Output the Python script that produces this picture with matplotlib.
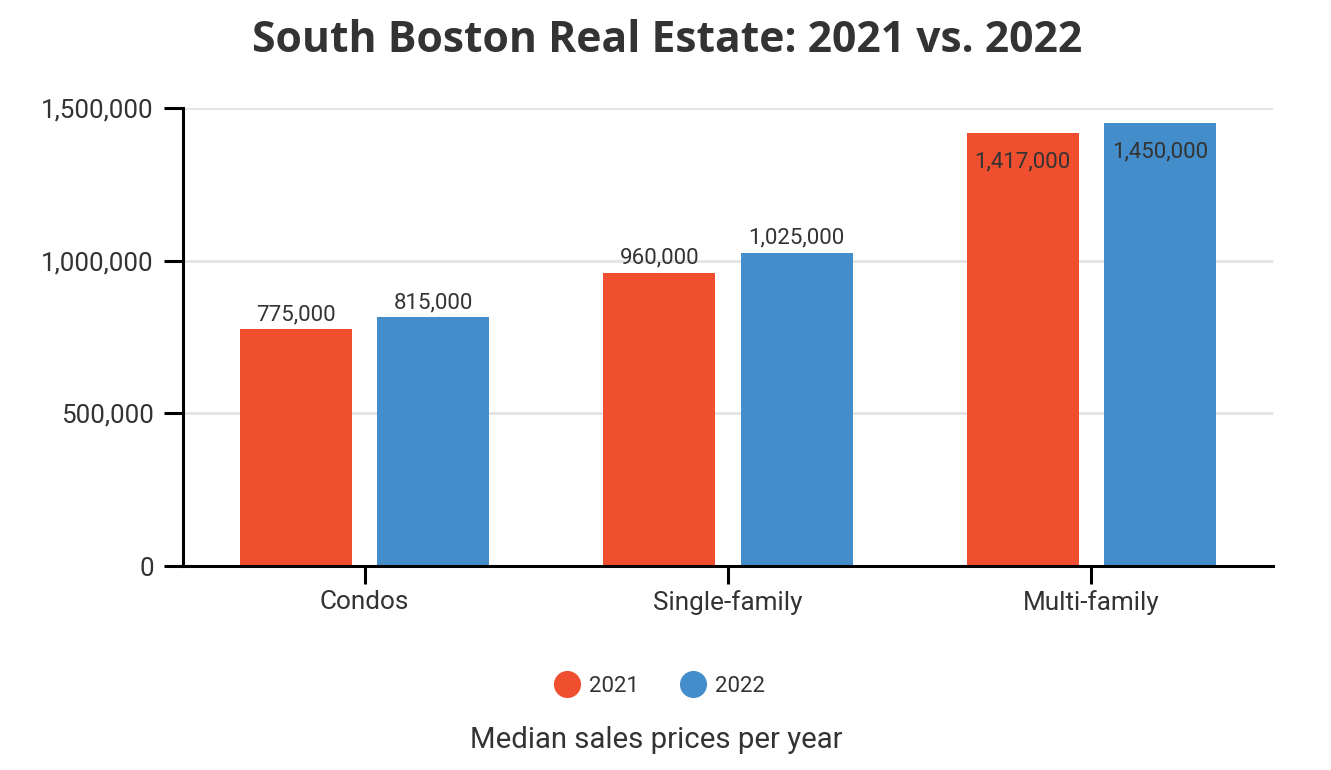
import matplotlib
matplotlib.use("Agg")
import matplotlib.pyplot as plt
import numpy as np
from matplotlib.lines import Line2D

categories = ["Condos", "Single-family", "Multi-family"]
series_names = ["2021", "2022"]
values_2021 = [775000, 960000, 1417000]
values_2022 = [815000, 1025000, 1450000]
y_ticks = [0, 500000, 1000000, 1500000]
y_tick_labels = ["0", "500,000", "1,000,000", "1,500,000"]
title = "South Boston Real Estate: 2021 vs. 2022"
subtitle = "Median sales prices per year"

RED = "#EF4F2F"
BLUE = "#448DCB"
TXT = "#333333"
FONT = ["Roboto", "DejaVu Sans"]

fig = plt.figure(figsize=(13.31, 7.70), dpi=100)
ax = fig.add_axes([183/1331, 1-566/770, (1273-183)/1331, (566-108)/770])

x = np.arange(len(categories))
w = 0.308
off = 0.189
b1 = ax.bar(x - off, values_2021, w, color=RED, zorder=3)
b2 = ax.bar(x + off, values_2022, w, color=BLUE, zorder=3)

ax.set_xlim(-0.5, 2.5)
ax.set_ylim(0, 1500000)
ax.set_yticks(y_ticks)
ax.set_yticklabels(y_tick_labels, family=FONT, fontsize=18.7, color=TXT)
ax.set_xticks(x)
ax.set_xticklabels(categories, family=FONT, fontsize=18.8, color=TXT)
ax.tick_params(axis="y", length=14, width=2.2, color="black", pad=7)
ax.tick_params(axis="x", length=13, width=2.2, color="black", pad=4)
ax.grid(axis="y", color="#e3e3e3", linewidth=2, zorder=0)
for s in ["top", "right"]:
    ax.spines[s].set_visible(False)
for s in ["left", "bottom"]:
    ax.spines[s].set_linewidth(2.2)
    ax.spines[s].set_color("black")
    ax.spines[s].set_zorder(4)

for bars, vals in ((b1, values_2021), (b2, values_2022)):
    for rect, v in zip(bars, vals):
        label = f"{v:,}"
        cx = rect.get_x() + rect.get_width() / 2
        if v > 1300000:
            ax.annotate(label, (cx, v), xytext=(0, -13), textcoords="offset points",
                        ha="center", va="top", fontsize=16, family=FONT, color=TXT, zorder=5)
        else:
            ax.annotate(label, (cx, v), xytext=(0, 3), textcoords="offset points",
                        ha="center", va="bottom", fontsize=16, family=FONT, color=TXT, zorder=5)

fig.text(667/1331, 1-40/770, title, ha="center", va="center", fontsize=30.7,
         fontweight="bold", family=["Open Sans", "DejaVu Sans"], color="#333333")

handles = [Line2D([], [], marker="o", linestyle="none", markersize=18.5, color=RED, label=series_names[0]),
           Line2D([], [], marker="o", linestyle="none", markersize=18.5, color=BLUE, label=series_names[1])]
fig.legend(handles=handles, loc="center", bbox_to_anchor=(655/1331, 1-686/770), ncol=2,
           frameon=False, prop={"family": FONT, "size": 16}, handletextpad=0.0,
           columnspacing=1.4, labelcolor=TXT)

fig.text(656/1331, 1-740/770, subtitle, ha="center", va="center", fontsize=21.2,
         family=FONT, color=TXT)

fig.savefig("out.png", dpi=100)
